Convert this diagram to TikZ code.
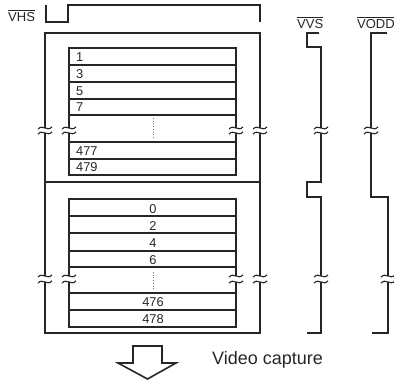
\documentclass[tikz,border=0pt]{standalone}
\usepackage{fontspec}
\setmainfont{Liberation Sans}
\newcommand{\ovl}[1]{$\overline{\mbox{#1}}$}
\begin{document}
\begin{tikzpicture}[x=1pt,y=-1pt,
  wire/.style={line width=1.8pt, line cap=butt, line join=miter, draw=black!85},
  brkmark/.style={line width=1.1pt, draw=black!85},
  lbl/.style={font=\fontsize{13}{14}\selectfont, inner sep=0pt, anchor=base west, text=black!85},
  rowl/.style={font=\fontsize{12.8}{13}\selectfont, inner sep=0pt, anchor=base west, text=black!85},
  rowc/.style={font=\fontsize{12.8}{13}\selectfont, inner sep=0pt, anchor=base, text=black!85},
  dots/.style={dotted, line width=0.7pt, draw=black!55}]
\useasboundingbox (0,0) rectangle (394,381);

% signal labels
\node[lbl] (vhs) at (8,21) {\ovl{VHS}};
\node[lbl] (vvs) at (297,28) {\ovl{VVS}};
\node[lbl] (vodd) at (357,28) {\ovl{VODD}};

% VHS waveform
\draw[wire] (46,5) -- (46,22) -- (68,22) -- (68,5) -- (260,5) -- (260,22);

% outer frame
\draw[wire] (45,128) -- (45,33) -- (260,33) -- (260,128);
\draw[wire] (45,133) -- (45,276);
\draw[wire] (260,133) -- (260,276);
\draw[wire] (45,282) -- (45,333) -- (260,333) -- (260,282);
\draw[wire] (45,182) -- (260,182);

% upper field
\draw[wire] (69,128) -- (69,48) -- (236,48) -- (236,128);
\draw[wire] (69,133) -- (69,175) -- (236,175) -- (236,133);
\foreach \y in {65,82,99,115,142,159} \draw[wire] (69,\y) -- (236,\y);
\draw[dots] (153,118) -- (153,137);

% lower field
\draw[wire] (69,276) -- (69,199) -- (236,199) -- (236,276);
\draw[wire] (69,282) -- (69,327) -- (236,327) -- (236,282);
\foreach \y in {216,233,251,267,293,310} \draw[wire] (69,\y) -- (236,\y);
\draw[dots] (153,272) -- (153,290);

% row labels
\node[rowl] (r1) at (76,61.8) {1};
\node[rowl] (r3) at (76,78.8) {3};
\node[rowl] (r5) at (76,95.8) {5};
\node[rowl] (r7) at (76,111.8) {7};
\node[rowl] (r477) at (76,155.8) {477};
\node[rowl] (r479) at (76,171.8) {479};
\node[rowc] (r0) at (153,213) {0};
\node[rowc] (r2) at (153,230) {2};
\node[rowc] (r4) at (153,247.8) {4};
\node[rowc] (r6) at (153,264) {6};
\node[rowc] (r476) at (153,306.8) {476};
\node[rowc] (r478) at (153,323.8) {478};

% VVS waveform
\draw[wire] (319,33) -- (307,33) -- (307,47) -- (321,47) -- (321,128);
\draw[wire] (321,133) -- (321,182) -- (307,182) -- (307,197) -- (321,197) -- (321,276);
\draw[wire] (321,282) -- (321,333) -- (307,333);

% VODD waveform
\draw[wire] (387,33) -- (371,33) -- (371,128);
\draw[wire] (371,133) -- (371,197) -- (388,197) -- (388,276);
\draw[wire] (388,282) -- (388,333) -- (372,333);

% break marks
\foreach \x in {45,69,236,260,321,371} {
  \foreach \y in {128,133}
    \draw[brkmark] (\x-7,\y+1.2) .. controls (\x-2.5,\y-4.5) and (\x+2.5,\y+4.5) .. (\x+7,\y-1.2);
}
\foreach \x in {45,69,236,260,321,388} {
  \foreach \y in {276,282}
    \draw[brkmark] (\x-7,\y+1.2) .. controls (\x-2.5,\y-4.5) and (\x+2.5,\y+4.5) .. (\x+7,\y-1.2);
}

% block arrow and caption
\draw[wire, line width=1.6pt] (133,346) -- (162,346) -- (162,363) -- (176,363) -- (147.5,379) -- (118,363) -- (133,363) -- cycle;
\node[lbl, font=\fontsize{18}{20}\selectfont] (cap) at (212,364) {Video capture};
\end{tikzpicture}
\end{document}
